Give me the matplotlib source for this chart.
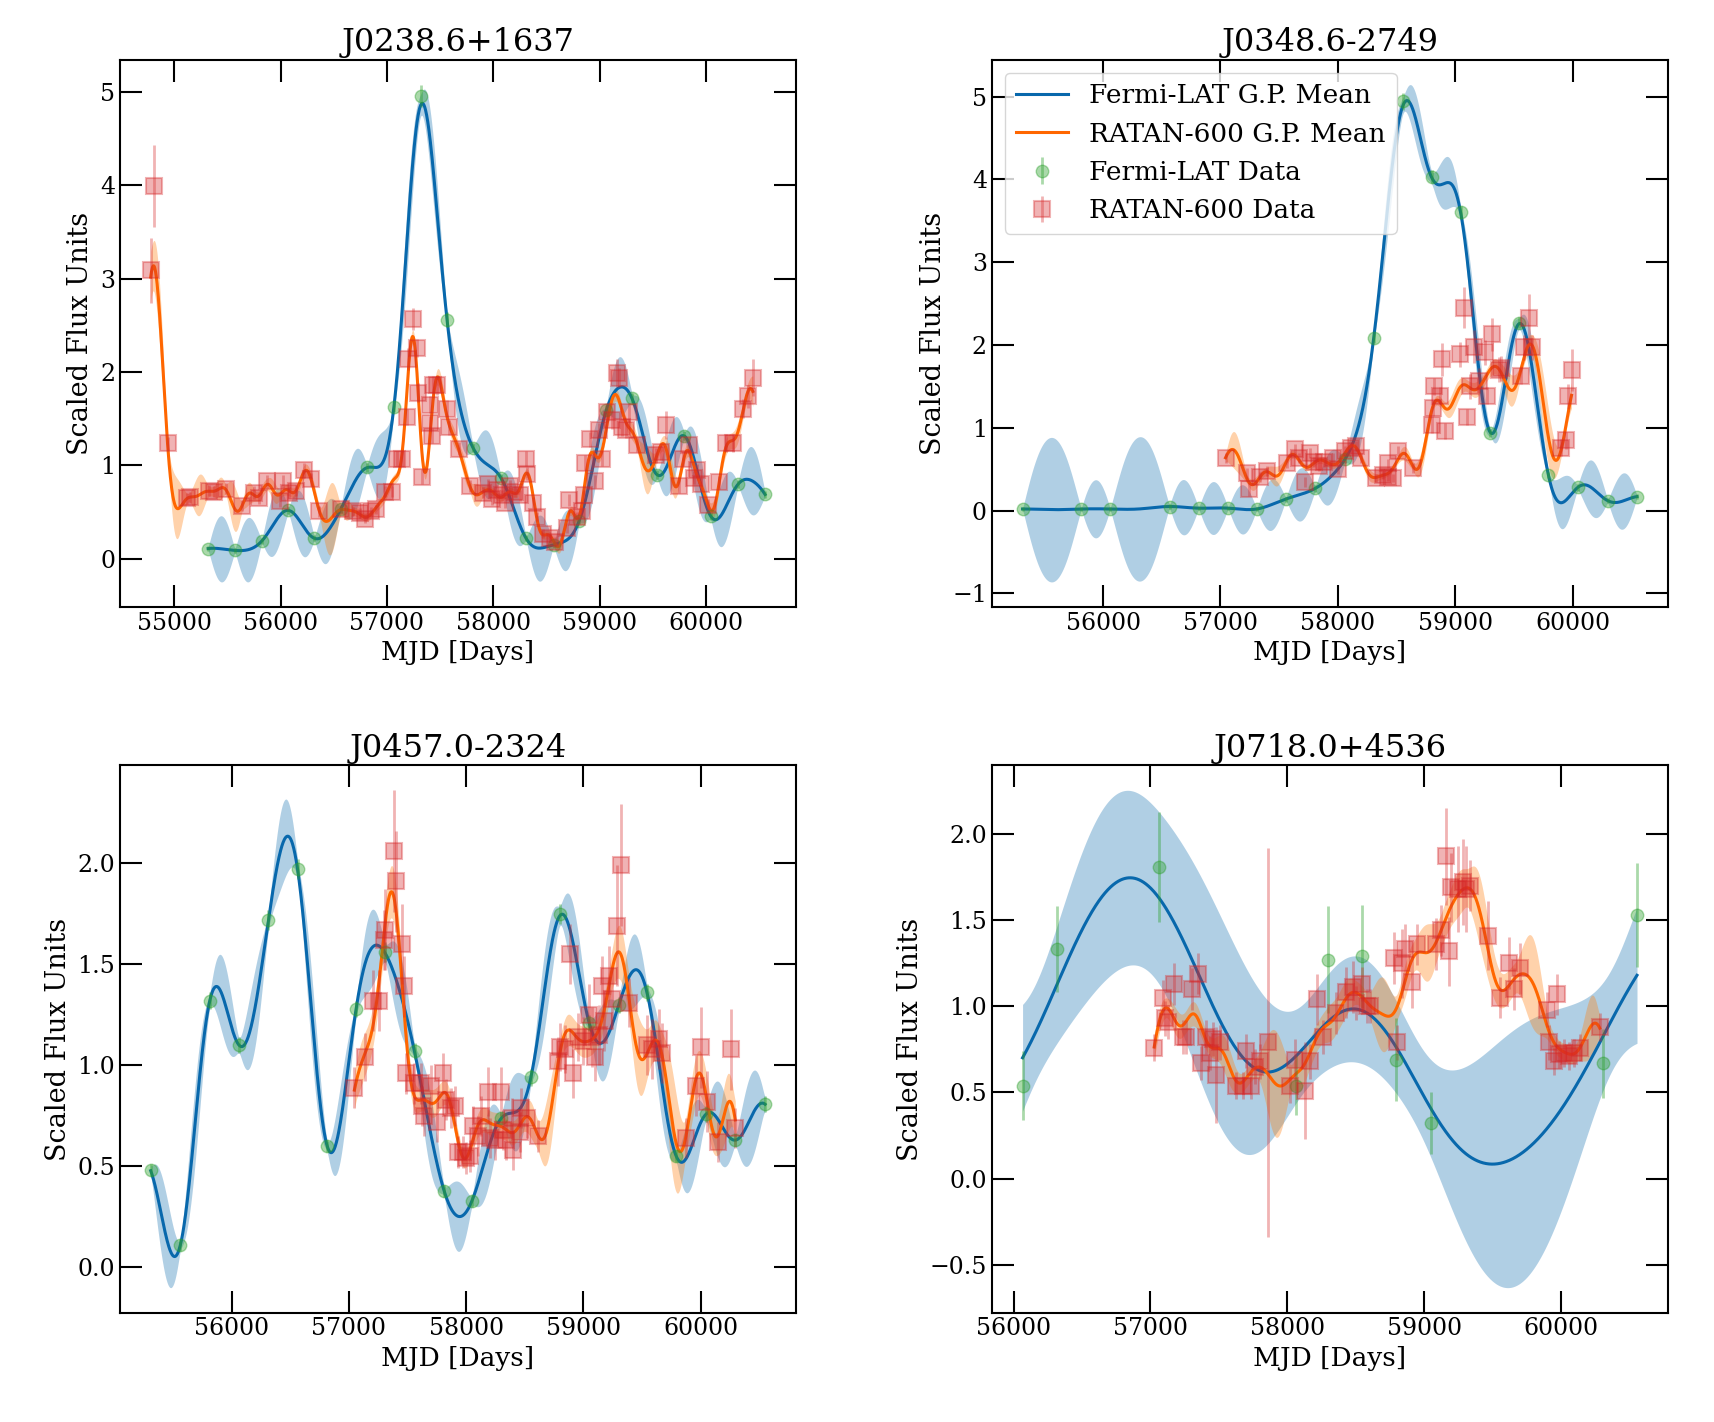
import numpy as np
import matplotlib
matplotlib.use('Agg')
import matplotlib.pyplot as plt

plt.rcParams['font.family'] = 'serif'
plt.rcParams['font.serif'] = ['DejaVu Serif']

# ---- J0238.6+1637 ----
f1_t = [55319, 55571, 55823, 56073, 56319, 56565, 56814, 57066, 57318, 57567, 57811,
        58072, 58309, 58567, 58809, 59061, 59307, 59543, 59798, 60044, 60302, 60557]
f1_y = [0.11, 0.09, 0.19, 0.52, 0.22, 0.53, 0.98, 1.63, 4.96, 2.56, 1.19,
        0.87, 0.22, 0.15, 0.41, 1.59, 1.72, 0.90, 1.32, 0.46, 0.80, 0.69]
f1_e = [0.03, 0.03, 0.03, 0.04, 0.03, 0.04, 0.05, 0.06, 0.12, 0.08, 0.05,
        0.04, 0.03, 0.03, 0.04, 0.06, 0.06, 0.05, 0.05, 0.04, 0.04, 0.04]
r1_t = [54779, 54811, 54937, 55120, 55151, 55325, 55372, 55483, 55640, 55751, 55798,
        55877, 55997, 56019, 56082, 56145, 56224, 56287, 56366, 56571, 56681, 56744,
        56791, 56855, 56902, 56981, 57044, 57091, 57139, 57186, 57202, 57249, 57281,
        57297, 57328, 57407, 57410, 57423, 57438, 57470, 57565, 57580, 57675, 57780,
        57906, 57953, 57984, 58031, 58079, 58110, 58157, 58205, 58252, 58309, 58315,
        58378, 58409, 58472, 58535, 58583, 58693, 58709, 58787, 58835, 58850, 58866,
        58913, 58961, 58992, 59024, 59071, 59118, 59165, 59181, 59213, 59244, 59276,
        59354, 59528, 59575, 59622, 59748, 59780, 59843, 59890, 59921, 59953, 60016,
        60126, 60189, 60252, 60346, 60394, 60441]
r1_y = [3.09, 3.99, 1.24, 0.65, 0.66, 0.73, 0.72, 0.75, 0.57, 0.71, 0.65,
        0.83, 0.62, 0.83, 0.71, 0.73, 0.95, 0.85, 0.51, 0.53, 0.51, 0.49,
        0.43, 0.51, 0.53, 0.72, 0.72, 1.07, 1.07, 1.52, 2.14, 2.57, 2.26,
        1.78, 0.88, 1.65, 1.45, 1.32, 1.86, 1.86, 1.61, 1.41, 1.18, 0.78,
        0.71, 0.80, 0.64, 0.74, 0.68, 0.60, 0.78, 0.72, 0.68, 1.07, 0.91,
        0.60, 0.45, 0.27, 0.22, 0.18, 0.33, 0.63, 0.45, 0.51, 0.68, 1.03,
        1.28, 0.83, 1.38, 1.07, 1.57, 1.49, 1.99, 1.94, 1.41, 1.38, 1.57,
        1.22, 1.11, 1.14, 1.43, 0.78, 1.07, 1.22, 0.87, 0.95, 0.80, 0.58,
        0.82, 1.24, 1.24, 1.61, 1.74, 1.94]
r1_e = [0.35, 0.44, 0.07, 0.06, 0.06, 0.06, 0.06, 0.06, 0.06, 0.07, 0.06,
        0.07, 0.06, 0.07, 0.06, 0.06, 0.08, 0.07, 0.06, 0.05, 0.05, 0.05,
        0.05, 0.05, 0.05, 0.06, 0.06, 0.08, 0.08, 0.09, 0.12, 0.12, 0.10,
        0.10, 0.08, 0.09, 0.08, 0.08, 0.10, 0.10, 0.09, 0.08, 0.07, 0.06,
        0.06, 0.06, 0.06, 0.06, 0.06, 0.06, 0.06, 0.06, 0.06, 0.08, 0.07,
        0.06, 0.05, 0.05, 0.05, 0.05, 0.05, 0.06, 0.05, 0.05, 0.06, 0.08,
        0.08, 0.07, 0.08, 0.08, 0.10, 0.10, 0.15, 0.10, 0.09, 0.09, 0.10,
        0.08, 0.08, 0.08, 0.15, 0.07, 0.08, 0.08, 0.07, 0.07, 0.07, 0.06,
        0.07, 0.10, 0.10, 0.10, 0.12, 0.20]

# ---- J0348.6-2749 ----
f2_t = [55314, 55814, 56060, 56566, 56814, 57066, 57309, 57557, 57809, 58060, 58306,
        58557, 58800, 59049, 59300, 59543, 59794, 60043, 60300, 60549]
f2_y = [0.02, 0.02, 0.02, 0.05, 0.03, 0.03, 0.02, 0.14, 0.27, 0.62, 2.09,
        4.94, 4.03, 3.60, 0.94, 2.27, 0.43, 0.28, 0.12, 0.17]
f2_e = [0.02, 0.02, 0.02, 0.03, 0.02, 0.02, 0.02, 0.03, 0.04, 0.05, 0.06,
        0.10, 0.08, 0.08, 0.05, 0.07, 0.04, 0.04, 0.03, 0.03]
r2_t = [57043, 57223, 57243, 57337, 57394, 57566, 57637, 57666, 57723, 57766,
        57794, 57837, 57886, 57957, 58000, 58057, 58114, 58157, 58200, 58329,
        58386, 58429, 58431, 58471, 58514, 58643, 58800, 58814, 58816, 58871,
        58886, 58914, 59043, 59071, 59100, 59129, 59157, 59200, 59257, 59271,
        59314, 59371, 59386, 59557, 59586, 59629, 59657, 59900, 59943, 59957,
        59991]
r2_y = [0.64, 0.45, 0.26, 0.41, 0.48, 0.57, 0.74, 0.63, 0.35, 0.70,
        0.59, 0.54, 0.59, 0.63, 0.50, 0.72, 0.76, 0.78, 0.63, 0.39,
        0.43, 0.41, 0.57, 0.39, 0.72, 0.52, 1.04, 1.24, 1.50, 1.39,
        1.83, 0.96, 1.89, 2.45, 1.13, 1.50, 1.98, 1.57, 1.91, 1.39,
        2.13, 1.70, 1.72, 1.63, 1.97, 2.32, 1.97, 0.76, 0.85, 1.38,
        1.70]
r2_e = [0.06, 0.07, 0.08, 0.06, 0.06, 0.06, 0.06, 0.06, 0.06, 0.06,
        0.06, 0.06, 0.06, 0.06, 0.06, 0.06, 0.06, 0.06, 0.06, 0.05,
        0.05, 0.05, 0.05, 0.05, 0.06, 0.06, 0.10, 0.10, 0.10, 0.10,
        0.20, 0.10, 0.15, 0.25, 0.10, 0.15, 0.20, 0.15, 0.15, 0.10,
        0.20, 0.15, 0.15, 0.10, 0.15, 0.30, 0.15, 0.10, 0.10, 0.15,
        0.25]

# ---- J0457.0-2324 ----
f3_t = [55309, 55562, 55811, 56063, 56312, 56564, 56814, 57060, 57309, 57559, 57811,
        58049, 58300, 58551, 58800, 59049, 59300, 59543, 59791, 60043, 60294, 60549]
f3_y = [0.48, 0.11, 1.32, 1.10, 1.72, 1.97, 0.60, 1.28, 1.56, 1.07, 0.38,
        0.33, 0.74, 0.94, 1.75, 1.21, 1.30, 1.36, 0.55, 0.76, 0.63, 0.81]
f3_e = [0.03, 0.03, 0.04, 0.04, 0.05, 0.05, 0.03, 0.04, 0.05, 0.04, 0.03,
        0.03, 0.03, 0.04, 0.05, 0.04, 0.04, 0.04, 0.03, 0.04, 0.03, 0.04]
r3_t = [57046, 57138, 57209, 57252, 57295, 57309, 57381, 57404, 57453, 57467,
        57490, 57553, 57610, 57625, 57639, 57696, 57748, 57805, 57825, 57868,
        57900, 57926, 57971, 58000, 58029, 58057, 58100, 58129, 58186, 58200,
        58243, 58300, 58314, 58343, 58386, 58400, 58457, 58471, 58514, 58614,
        58786, 58800, 58843, 58886, 58914, 58957, 59000, 59043, 59071, 59100,
        59129, 59157, 59171, 59214, 59243, 59286, 59320, 59386, 59543, 59586,
        59643, 59671, 59871, 59957, 60000, 60057, 60143, 60257, 60294]
r3_y = [0.89, 1.04, 1.32, 1.32, 1.62, 1.67, 2.06, 1.91, 1.60, 1.39,
        0.96, 0.91, 0.91, 0.80, 0.75, 0.90, 0.72, 0.96, 0.83, 0.79,
        0.80, 0.57, 0.57, 0.54, 0.55, 0.70, 0.65, 0.75, 0.87, 0.64,
        0.63, 0.87, 0.68, 0.63, 0.74, 0.58, 0.67, 0.79, 0.74, 0.65,
        1.02, 1.09, 1.08, 1.55, 0.96, 1.14, 1.12, 1.25, 1.14, 1.04,
        1.15, 1.39, 1.22, 1.44, 1.33, 1.69, 1.99, 1.31, 1.10, 1.08,
        1.13, 1.06, 0.64, 0.90, 1.09, 0.82, 0.62, 1.08, 0.69]
r3_e = [0.10, 0.12, 0.15, 0.15, 0.15, 0.20, 0.30, 0.25, 0.20, 0.15,
        0.10, 0.10, 0.10, 0.10, 0.10, 0.10, 0.10, 0.10, 0.10, 0.10,
        0.10, 0.08, 0.08, 0.08, 0.08, 0.10, 0.10, 0.10, 0.12, 0.10,
        0.10, 0.12, 0.10, 0.10, 0.10, 0.10, 0.10, 0.10, 0.10, 0.08,
        0.12, 0.12, 0.12, 0.15, 0.12, 0.12, 0.12, 0.15, 0.15, 0.12,
        0.15, 0.15, 0.15, 0.15, 0.15, 0.30, 0.30, 0.12, 0.15, 0.15,
        0.15, 0.15, 0.10, 0.15, 0.20, 0.15, 0.10, 0.20, 0.10]

# ---- J0718.0+4536 ----
f4_t = [56066, 56318, 57065, 58061, 58296, 58543, 58795, 59049, 60304, 60556]
f4_y = [0.54, 1.33, 1.81, 0.54, 1.27, 1.29, 0.69, 0.32, 0.67, 1.53]
f4_e = [0.20, 0.25, 0.32, 0.17, 0.31, 0.30, 0.24, 0.18, 0.20, 0.30]
r4_t = [57028, 57089, 57109, 57131, 57175, 57236, 57261, 57302, 57351, 57371,
        57408, 57433, 57457, 57481, 57506, 57628, 57677, 57701, 57738, 57762,
        57799, 57860, 58020, 58056, 58130, 58166, 58215, 58259, 58358, 58432,
        58481, 58506, 58543, 58580, 58605, 58778, 58802, 58840, 58864, 58914,
        58951, 59086, 59123, 59160, 59185, 59198, 59247, 59284, 59309, 59333,
        59469, 59556, 59617, 59654, 59704, 59901, 59914, 59951, 59975, 59988,
        60025, 60062, 60099, 60136, 60284]
r4_y = [0.76, 1.05, 0.93, 0.91, 1.13, 0.82, 0.82, 1.10, 1.19, 0.67,
        0.82, 0.73, 0.81, 0.60, 0.79, 0.54, 0.54, 0.74, 0.54, 0.65,
        0.68, 0.79, 0.54, 0.69, 0.51, 0.68, 1.04, 0.82, 0.96, 1.08,
        1.11, 1.02, 1.13, 1.00, 1.00, 1.28, 0.79, 1.25, 1.33, 1.14,
        1.36, 1.36, 1.44, 1.87, 1.32, 1.69, 1.68, 1.72, 1.68, 1.70,
        1.41, 1.05, 1.25, 1.10, 1.22, 0.98, 0.79, 0.68, 1.07, 0.72,
        0.73, 0.71, 0.73, 0.76, 0.88]
r4_e = [0.08, 0.10, 0.10, 0.10, 0.12, 0.10, 0.10, 0.12, 0.12, 0.10,
        0.10, 0.10, 0.10, 0.28, 0.10, 0.08, 0.08, 0.10, 0.08, 0.10,
        0.10, 1.13, 0.10, 0.12, 0.28, 0.10, 0.15, 0.10, 0.12, 0.15,
        0.15, 0.10, 0.10, 0.10, 0.10, 0.15, 0.10, 0.20, 0.15, 0.15,
        0.12, 0.15, 0.15, 0.28, 0.20, 0.20, 0.25, 0.25, 0.25, 0.15,
        0.20, 0.12, 0.15, 0.12, 0.15, 0.10, 0.10, 0.08, 0.12, 0.08,
        0.08, 0.08, 0.08, 0.08, 0.08]

titles = ['J0238.6+1637', 'J0348.6-2749', 'J0457.0-2324', 'J0718.0+4536']
fermi = [(f1_t, f1_y, f1_e), (f2_t, f2_y, f2_e), (f3_t, f3_y, f3_e), (f4_t, f4_y, f4_e)]
ratan = [(r1_t, r1_y, r1_e), (r2_t, r2_y, r2_e), (r3_t, r3_y, r3_e), (r4_t, r4_y, r4_e)]
# RBF kernel: length scale (days), amplitude, subtract data mean?, noise scale
fermi_kern = [(150, 0.8, False, 1.0), (170, 1.0, False, 1.0),
              (175, 0.65, False, 1.0), (560, 1.15, True, 1.8)]
ratan_kern = [(95, 0.8, False, 1.0), (120, 0.8, False, 1.0),
              (120, 0.8, False, 1.0), (110, 0.8, False, 1.0)]


def gp_predict(t, y, e, tg, ell, amp, center, escale):
    t = np.asarray(t, float)
    y = np.asarray(y, float)
    e = np.asarray(e, float) * escale
    m = y.mean() if center else 0.0
    K = amp**2 * np.exp(-0.5 * ((t[:, None] - t[None, :]) / ell)**2) + np.diag(e**2)
    Ks = amp**2 * np.exp(-0.5 * ((tg[:, None] - t[None, :]) / ell)**2)
    mu = m + Ks @ np.linalg.solve(K, y - m)
    v = np.linalg.solve(K, Ks.T)
    var = amp**2 - np.sum(Ks * v.T, axis=1)
    return mu, np.sqrt(np.clip(var, 0, None))


fig, axes = plt.subplots(2, 2, figsize=(17.14, 14.22), dpi=100)
plt.subplots_adjust(left=0.070, right=0.973, top=0.958, bottom=0.077, wspace=0.29, hspace=0.29)

for i, ax in enumerate(axes.flat):
    ft, fy, fe = fermi[i]
    rt, ry, re_ = ratan[i]

    tg = np.linspace(min(ft), max(ft), 1500)
    mu, sd = gp_predict(ft, fy, fe, tg, *fermi_kern[i])
    ax.fill_between(tg, mu - sd, mu + sd, color='tab:blue', alpha=0.35, lw=0, zorder=1)
    ax.plot(tg, mu, color='#0868ac', lw=2.2, label='Fermi-LAT G.P. Mean', zorder=2)

    rg = np.linspace(min(rt), max(rt), 1500)
    mu, sd = gp_predict(rt, ry, re_, rg, *ratan_kern[i])
    ax.fill_between(rg, mu - sd, mu + sd, color='tab:orange', alpha=0.35, lw=0, zorder=1)
    ax.plot(rg, mu, color='#ff6600', lw=2.2, label='RATAN-600 G.P. Mean', zorder=2)

    ax.errorbar(ft, fy, yerr=fe, fmt='o', color='tab:green', alpha=0.4, ms=9,
                elinewidth=2, label='Fermi-LAT Data', zorder=3)
    ax.errorbar(rt, ry, yerr=re_, fmt='s', color='tab:red', alpha=0.35, ms=11, mew=1.5,
                elinewidth=2, label='RATAN-600 Data', zorder=3)

    ax.set_title(titles[i], fontsize=23)
    ax.set_xlabel('MJD [Days]', fontsize=19)
    ax.set_ylabel('Scaled Flux Units', fontsize=19.5)
    ax.tick_params(direction='in', length=16, width=1.5, top=True, right=True, labelsize=17)
    for s in ax.spines.values():
        s.set_linewidth(1.5)
    if i == 1:
        ax.legend(loc='upper left', fontsize=19)

plt.savefig('out.png', dpi=100)
